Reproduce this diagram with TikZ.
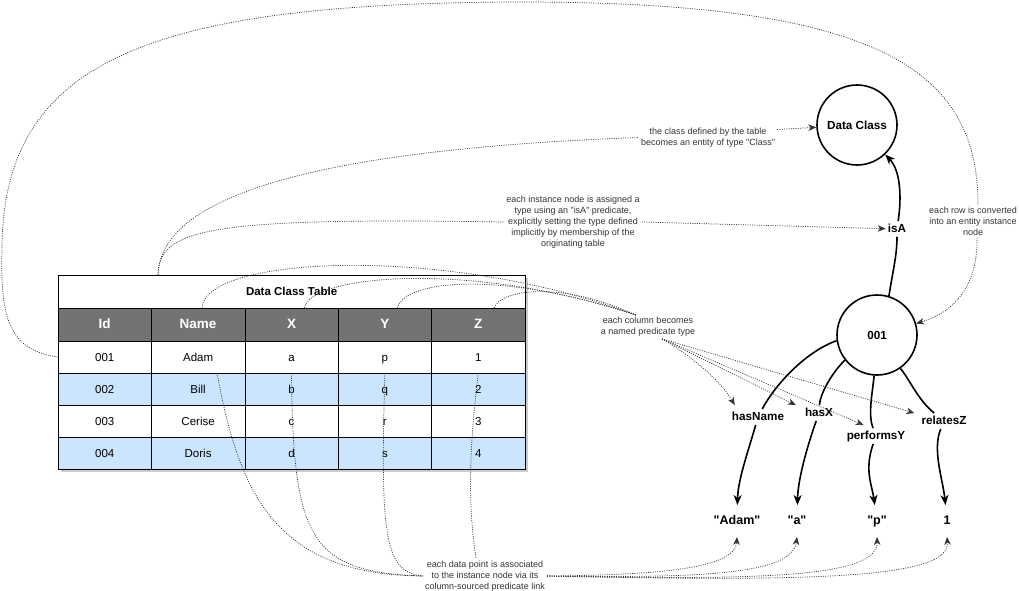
\documentclass[tikz,border=0pt]{standalone}
\usepackage{fontspec}
\setmainfont{Liberation Sans}[Ligatures=TeXOff]
\usetikzlibrary{arrows.meta}
\definecolor{headgray}{HTML}{737373}
\definecolor{rowblue}{HTML}{CCE5FF}
\definecolor{notegray}{HTML}{333333}

\begin{document}
\begin{tikzpicture}[x=1pt,y=-1pt,
    cell/.style={draw, minimum width=93.4pt, minimum height=32pt, inner sep=0pt,
      text height=8.5pt, text depth=0pt, font=\fontsize{11.5}{13}\selectfont},
    hcell/.style={cell, fill=headgray, text=white, minimum height=33pt,
      font=\bfseries\fontsize{13.5}{15}\selectfont},
    circ/.style={draw, circle, line width=1.6pt, minimum size=80pt, inner sep=0pt,
      font=\bfseries\fontsize{11.7}{13}\selectfont},
    pred/.style={inner sep=2pt, text height=9pt, text depth=2.5pt,
      font=\bfseries\fontsize{11.7}{13}\selectfont},
    val/.style={inner xsep=2pt, inner ysep=10pt, text height=9pt, text depth=2.5pt,
      font=\bfseries\fontsize{12.5}{14}\selectfont},
    note/.style={text=notegray, align=center, inner sep=2pt,
      font=\fontsize{9}{11}\selectfont},
    link/.style={draw=black!80, line width=0.7pt, dash pattern=on 1pt off 1.3pt},
    notearrow/.style={-{Stealth[length=8pt,width=6.5pt,inset=2.5pt]}},
    rel/.style={line width=1.6pt},
    relarrow/.style={rel, -{Stealth[length=10pt,width=8pt,inset=3pt]}}
  ]
  \useasboundingbox (0,0) rectangle (1019,591);

  % table
  \fill[black!20] (61,278) rectangle (528,472);
  \node[draw, fill=white, minimum width=466.8pt, minimum height=33pt, inner sep=0pt,
    anchor=north west, text height=8.5pt, text depth=0pt,
    font=\bfseries\fontsize{11.5}{13}\selectfont] (title) at (58,275) {Data Class Table};
  \foreach \j/\h in {1/Id,2/Name,3/X,4/Y,5/Z}
    \node[hcell] (h\j) at ({58+93.4*(\j-0.5)},324.5) {\h};
  \foreach \i/\rc/\a/\b/\c/\d/\e in {1/white/001/Adam/a/p/1, 2/rowblue/002/Bill/b/q/2,
      3/white/003/Cerise/c/r/3, 4/rowblue/004/Doris/d/s/4} {
    \foreach \j/\t in {1/\a,2/\b,3/\c,4/\d,5/\e}
      \node[cell, fill=\rc] (r\i-\j) at ({58+93.4*(\j-0.5)},{341+32*(\i-0.5)}) {\t};
  }

  % graph
  \node[circ] (dataclass) at (857,125) {Data Class};
  \node[circ] (inst) at (877,335) {001};
  \node[pred] (isa) at (897,229) {isA};
  \node[pred] (hasname) at (758,417) {hasName};
  \node[pred] (hasx) at (819,413) {hasX};
  \node[pred] (performsy) at (876,436) {performsY};
  \node[pred] (relatesz) at (944,421) {relatesZ};
  \node[val] (vadam) at (737,521) {"Adam"};
  \node[val] (va) at (797,521) {"a"};
  \node[val] (vp) at (877,521) {"p"};
  \node[val] (v1) at (947,521) {1};

  \draw[rel] (inst.73) .. controls (893,270) and (897,255) .. (isa);
  \draw[relarrow] (isa) .. controls (902,195) and (900,170) .. (dataclass);
  \draw[rel] (inst.188) .. controls (805,352) and (775,385) .. (hasname);
  \draw[relarrow] (hasname) .. controls (747,455) and (738,480) .. (vadam);
  \draw[rel] (inst.218) .. controls (830,375) and (820,395) .. (hasx);
  \draw[relarrow] (hasx) .. controls (806,450) and (798,480) .. (va);
  \draw[rel] (inst.266) .. controls (872,395) and (868,415) .. (performsy);
  \draw[relarrow] (performsy) .. controls (864,470) and (872,485) .. (vp);
  \draw[rel] (inst.305) .. controls (910,380) and (918,400) .. (relatesz);
  \draw[relarrow] (relatesz) .. controls (932,450) and (943,480) .. (v1);

  % notes
  \node[note] (classnote) at (708,137.5) {the class defined by the table\\becomes an entity of type "Class"};
  \node[note] (typenote) at (573,222) {each instance node is assigned a\\type using an "isA" predicate,\\explicitly setting the type defined\\implicitly by membership of the\\originating table};
  \node[note] (rownote) at (973,221) {each row is converted\\into an entity instance\\node};
  \node[note] (colnote) at (648,327) {each column becomes\\a named predicate type};
  \node[note] (datanote) at (485,576) {each data point is associated\\to the instance node via its\\column-sourced predicate link};

  \coordinate (tablesrc) at (158,275);
  \draw[link] (tablesrc) .. controls (160,200) and (300,150) .. (classnote.west);
  \draw[link,notearrow] ([yshift=8pt]classnote.east) -- (dataclass);
  \draw[link] (tablesrc) .. controls (160,230) and (200,217) .. (typenote.west);
  \draw[link,notearrow] (typenote.east) -- (isa);

  \draw[link] (r1-1.west) .. controls (10,350) and (0,320) .. (2,250)
    .. controls (2,60) and (150,3) .. (520,2)
    .. controls (870,2) and (978,65) .. ([xshift=5pt]rownote.north);
  \draw[link,notearrow] ([xshift=4pt]rownote.south) .. controls (978,285) and (955,312) .. (inst);

  \draw[link] ([xshift=4pt]h2.north) .. controls (205,255) and (450,245) .. ([xshift=-12pt]colnote.north);
  \draw[link] ([xshift=13pt]h3.north) .. controls (310,275) and (470,260) .. ([xshift=-12pt]colnote.north);
  \draw[link] ([xshift=12.5pt]h4.north) .. controls (405,280) and (500,270) .. ([xshift=-12pt]colnote.north);
  \draw[link] ([xshift=16pt]h5.north) .. controls (500,290) and (560,280) .. ([xshift=-12pt]colnote.north);

  \draw[link,notearrow] ([xshift=14pt]colnote.south) .. controls (690,355) and (720,380) .. ([xshift=5pt,yshift=4pt]hasname.north west);
  \draw[link,notearrow] ([xshift=14pt]colnote.south) -- ([xshift=-7pt]hasx.north west);
  \draw[link,notearrow] ([xshift=14pt]colnote.south) -- ([xshift=19pt,yshift=3pt]performsy.north west);
  \draw[link,notearrow] ([xshift=14pt]colnote.south) -- ([xshift=-5pt]relatesz.north west);

  \draw[link] ([xshift=19pt]r1-2.south) .. controls (240,500) and (280,575) .. (datanote.west);
  \draw[link] (r1-3.south) .. controls (293,540) and (310,572) .. (datanote.west);
  \draw[link] (r1-4.south) .. controls (380,540) and (385,572) .. (datanote.west);
  \draw[link] (r1-5.south) .. controls (465,480) and (472,530) .. ([xshift=-9pt]datanote.north);

  \draw[link,notearrow] (datanote.east) .. controls (650,575) and (735,570) .. (vadam.south);
  \draw[link,notearrow] (datanote.east) .. controls (700,578) and (792,575) .. (va.south);
  \draw[link,notearrow] (datanote.east) .. controls (760,580) and (878,578) .. (vp.south);
  \draw[link,notearrow] (datanote.east) .. controls (820,582) and (950,578) .. (v1.south);
\end{tikzpicture}
\end{document}
